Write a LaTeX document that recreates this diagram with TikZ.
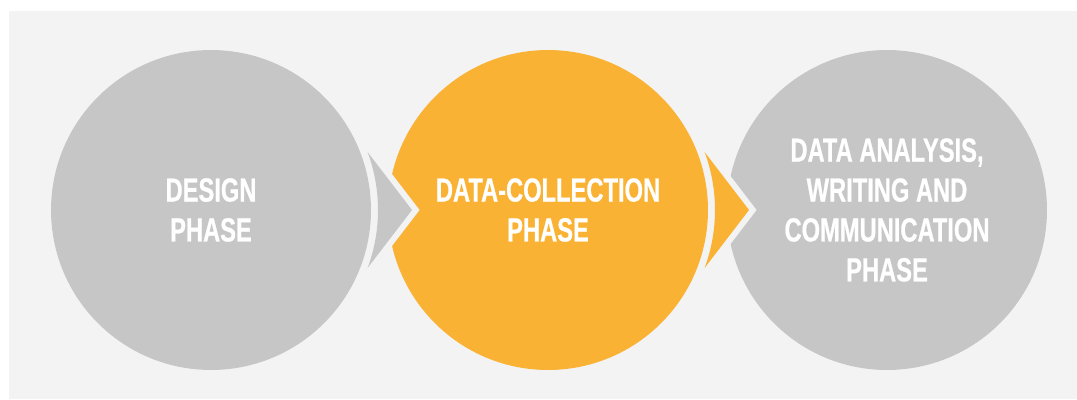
\documentclass[tikz,border=0pt]{standalone}
\usepackage{fontspec}
\newfontfamily\phasefont[FakeStretch=0.71, FakeBold=0.6]{Liberation Sans}
\usepackage{xcolor}
\usepackage{tikz}
\usetikzlibrary{positioning}
\definecolor{panel}{HTML}{F3F3F3}
\definecolor{phasegray}{HTML}{C6C6C6}
\definecolor{phaseorange}{HTML}{F9B233}
\tikzset{
  phase/.style={circle, minimum size=6.4cm, inner sep=0pt, align=center, text=white,
    font=\phasefont\bfseries\fontsize{19pt}{22.7pt}\selectfont},
  notch/.style={draw=panel, fill=panel, line width=0.24cm, line join=miter}
}

\begin{document}
\begin{tikzpicture}[x=0.02cm, y=-0.02cm]
\useasboundingbox (0,0) rectangle (1077,399);
\fill[panel] (9,11) rectangle (1077,399);
\coordinate (c1) at (211,210);
\coordinate (c2) at (548,210);
\coordinate (c3) at (887,210);
% right to left, so every notch is cut before the next circle
\node[phase, fill=phasegray] (analysis) at (c3) {DATA ANALYSIS,\\WRITING AND\\COMMUNICATION\\PHASE};
\draw[notch] ([shift={(-20.3:167)}]c2) arc[start angle=-20.3, end angle=20.3, radius=167] -- ([shift={(201,0)}]c2) -- cycle;
\node[phase, fill=phaseorange] (collection) at (c2) {DATA-COLLECTION\\PHASE};
\draw[notch] ([shift={(-20.3:167)}]c1) arc[start angle=-20.3, end angle=20.3, radius=167] -- ([shift={(201,0)}]c1) -- cycle;
\node[phase, fill=phasegray] (design) at (c1) {DESIGN\\PHASE};
% the two chevrons
\fill[phasegray] ([shift={(-20.3:167)}]c1) arc[start angle=-20.3, end angle=20.3, radius=167] -- ([shift={(201,0)}]c1) -- cycle;
\fill[phaseorange] ([shift={(-20.3:167)}]c2) arc[start angle=-20.3, end angle=20.3, radius=167] -- ([shift={(201,0)}]c2) -- cycle;
\end{tikzpicture}
\end{document}
